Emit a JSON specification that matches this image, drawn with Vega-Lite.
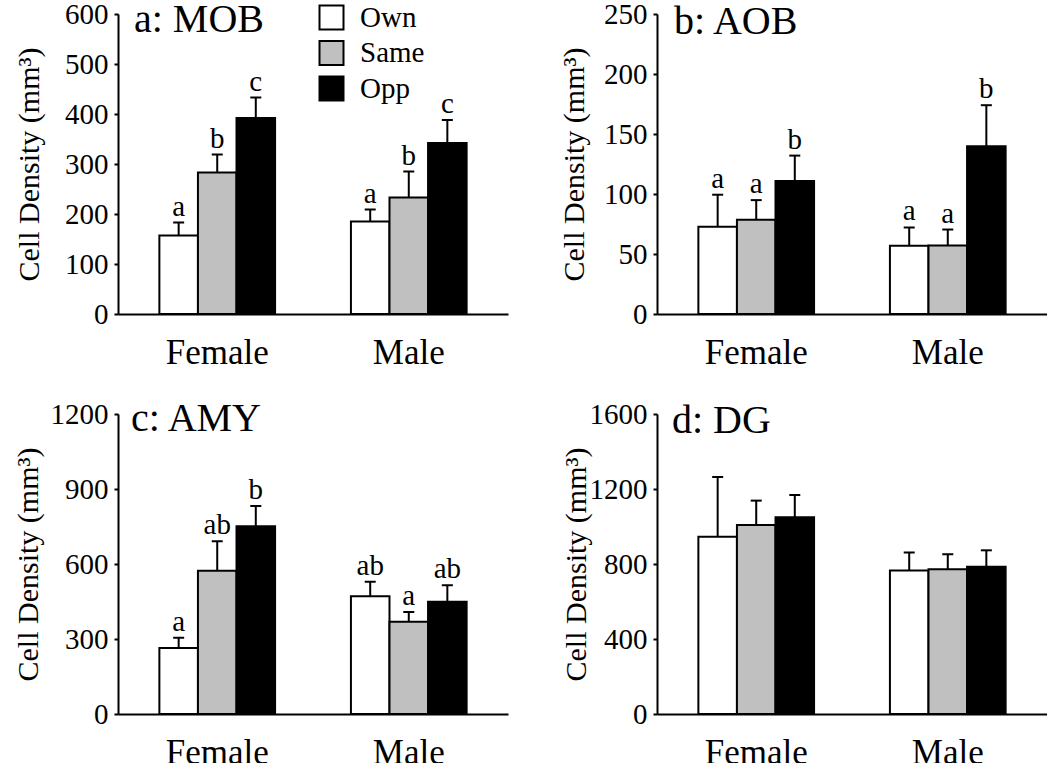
{
  "$schema": "https://vega.github.io/schema/vega-lite/v6.json",
  "padding": {"left": 13, "top": 0, "right": 0, "bottom": 0},
  "background": "white",
  "datasets": {
    "MOB": [
      {"sex": "Female", "group": "Own", "mean": 157, "upper": 183, "letter": "a"},
      {"sex": "Female", "group": "Same", "mean": 283, "upper": 319, "letter": "b"},
      {"sex": "Female", "group": "Opp", "mean": 392, "upper": 433, "letter": "c"},
      {"sex": "Male", "group": "Own", "mean": 185, "upper": 209, "letter": "a"},
      {"sex": "Male", "group": "Same", "mean": 233, "upper": 285, "letter": "b"},
      {"sex": "Male", "group": "Opp", "mean": 342, "upper": 388, "letter": "c"}
    ],
    "AOB": [
      {"sex": "Female", "group": "Own", "mean": 72.7, "upper": 99.4, "letter": "a"},
      {"sex": "Female", "group": "Same", "mean": 78.5, "upper": 94.9, "letter": "a"},
      {"sex": "Female", "group": "Opp", "mean": 110.8, "upper": 132, "letter": "b"},
      {"sex": "Male", "group": "Own", "mean": 56.8, "upper": 72.1, "letter": "a"},
      {"sex": "Male", "group": "Same", "mean": 57.1, "upper": 70.4, "letter": "a"},
      {"sex": "Male", "group": "Opp", "mean": 139.8, "upper": 174, "letter": "b"}
    ],
    "AMY": [
      {"sex": "Female", "group": "Own", "mean": 264, "upper": 305, "letter": "a"},
      {"sex": "Female", "group": "Same", "mean": 573, "upper": 691, "letter": "ab"},
      {"sex": "Female", "group": "Opp", "mean": 751, "upper": 832, "letter": "b"},
      {"sex": "Male", "group": "Own", "mean": 471, "upper": 529, "letter": "ab"},
      {"sex": "Male", "group": "Same", "mean": 369, "upper": 408, "letter": "a"},
      {"sex": "Male", "group": "Opp", "mean": 449, "upper": 515, "letter": "ab"}
    ],
    "DG": [
      {"sex": "Female", "group": "Own", "mean": 946, "upper": 1264, "letter": ""},
      {"sex": "Female", "group": "Same", "mean": 1008, "upper": 1138, "letter": ""},
      {"sex": "Female", "group": "Opp", "mean": 1049, "upper": 1168, "letter": ""},
      {"sex": "Male", "group": "Own", "mean": 766, "upper": 862, "letter": ""},
      {"sex": "Male", "group": "Same", "mean": 772, "upper": 852, "letter": ""},
      {"sex": "Male", "group": "Opp", "mean": 786, "upper": 873, "letter": ""}
    ]
  },
  "columns": 2,
  "spacing": {"column": 149, "row": 100},
  "bounds": "flush",
  "resolve": {"scale": {"fill": "independent"}, "legend": {"fill": "independent"}},
  "config": {
    "view": {"stroke": null},
    "font": "Liberation Serif",
    "axis": {"grid": false, "domainColor": "black", "domainWidth": 2, "tickColor": "black", "labelColor": "black", "titleColor": "black", "labelFont": "Liberation Serif", "titleFont": "Liberation Serif"},
    "axisX": {"ticks": false, "labelFontSize": 35, "labelAngle": 0, "labelBaseline": "alphabetic", "labelPadding": 49, "labelFont": "Liberation Serif"},
    "axisY": {"tickSize": 4, "tickWidth": 2, "labelFontSize": 29, "labelPadding": 6, "labelFont": "Liberation Serif", "titleFont": "Liberation Serif", "titleFontSize": 30, "titleFontWeight": "normal", "titleBaseline": "alphabetic", "titleAngle": 270, "titleY": 150, "titleAlign": "center", "format": "d"},
    "title": {"font": "Liberation Serif", "fontSize": 40, "fontWeight": "normal", "color": "black", "anchor": "start", "frame": "group", "offset": 0, "baseline": "alphabetic"},
    "legend": {"labelFont": "Liberation Serif", "labelColor": "black"}
  },
  "concat": [
    {
      "width": 390, "height": 300,
      "data": {"name": "MOB"},
      "title": {"text": "a: MOB", "dx": 16, "dy": 44},
      "encoding": {
        "x": {"field": "sex", "type": "nominal", "sort": ["Female", "Male"], "title": null, "scale": {"paddingInner": 0.396, "paddingOuter": 0.216}},
        "xOffset": {"field": "group", "type": "nominal", "sort": ["Own", "Same", "Opp"], "scale": {"paddingInner": 0, "paddingOuter": 0}}
      },
      "layer": [
        {"mark": {"type": "bar", "stroke": "black", "strokeWidth": 2},
         "encoding": {
           "y": {"field": "mean", "type": "quantitative", "title": "Cell Density (mm³)", "scale": {"domain": [0, 600], "nice": false}, "axis": {"values": [0, 100, 200, 300, 400, 500, 600], "titleX": -80, "format": "d", "titleFont": "Liberation Serif"}},
           "fill": {"field": "group", "type": "nominal", "sort": ["Own", "Same", "Opp"], "scale": {"domain": ["Own", "Same", "Opp"], "range": ["white", "#c0c0c0", "black"]},
             "legend": {"orient": "none", "legendX": 199, "legendY": -11, "title": null, "symbolType": "square", "symbolSize": 576, "symbolStrokeColor": "black", "symbolStrokeWidth": 2, "labelFontSize": 29, "labelOffset": 14, "rowPadding": 2.5, "padding": 0}}
         }},
        {"mark": {"type": "rule", "strokeWidth": 2, "color": "black"},
         "encoding": {"y": {"field": "mean", "type": "quantitative", "title": "Cell Density (mm³)"}, "y2": {"field": "upper"}}},
        {"mark": {"type": "tick", "size": 11, "thickness": 2, "color": "black", "opacity": 1},
         "encoding": {"y": {"field": "upper", "type": "quantitative", "title": "Cell Density (mm³)"}}},
        {"mark": {"type": "text", "dy": -7, "baseline": "alphabetic", "fontSize": 29, "font": "Liberation Serif", "color": "black"},
         "encoding": {"y": {"field": "upper", "type": "quantitative", "title": "Cell Density (mm³)"}, "text": {"field": "letter"}}}
      ]
    },
    {
      "width": 390, "height": 300,
      "data": {"name": "AOB"},
      "title": {"text": "b: AOB", "dx": 17, "dy": 46},
      "encoding": {
        "x": {"field": "sex", "type": "nominal", "sort": ["Female", "Male"], "title": null, "scale": {"paddingInner": 0.396, "paddingOuter": 0.216}},
        "xOffset": {"field": "group", "type": "nominal", "sort": ["Own", "Same", "Opp"], "scale": {"paddingInner": 0, "paddingOuter": 0}}
      },
      "layer": [
        {"mark": {"type": "bar", "stroke": "black", "strokeWidth": 2},
         "encoding": {
           "y": {"field": "mean", "type": "quantitative", "title": "Cell Density (mm³)", "scale": {"domain": [0, 250], "nice": false}, "axis": {"values": [0, 50, 100, 150, 200, 250], "titleX": -74, "format": "d", "titleFont": "Liberation Serif"}},
           "fill": {"field": "group", "type": "nominal", "sort": ["Own", "Same", "Opp"], "scale": {"domain": ["Own", "Same", "Opp"], "range": ["white", "#c0c0c0", "black"]}, "legend": null}
         }},
        {"mark": {"type": "rule", "strokeWidth": 2, "color": "black"},
         "encoding": {"y": {"field": "mean", "type": "quantitative", "title": "Cell Density (mm³)"}, "y2": {"field": "upper"}}},
        {"mark": {"type": "tick", "size": 11, "thickness": 2, "color": "black", "opacity": 1},
         "encoding": {"y": {"field": "upper", "type": "quantitative", "title": "Cell Density (mm³)"}}},
        {"mark": {"type": "text", "dy": -7, "baseline": "alphabetic", "fontSize": 29, "font": "Liberation Serif", "color": "black"},
         "encoding": {"y": {"field": "upper", "type": "quantitative", "title": "Cell Density (mm³)"}, "text": {"field": "letter"}}}
      ]
    },
    {
      "width": 390, "height": 300,
      "data": {"name": "AMY"},
      "title": {"text": "c: AMY", "dx": 13, "dy": 43},
      "encoding": {
        "x": {"field": "sex", "type": "nominal", "sort": ["Female", "Male"], "title": null, "scale": {"paddingInner": 0.396, "paddingOuter": 0.216}},
        "xOffset": {"field": "group", "type": "nominal", "sort": ["Own", "Same", "Opp"], "scale": {"paddingInner": 0, "paddingOuter": 0}}
      },
      "layer": [
        {"mark": {"type": "bar", "stroke": "black", "strokeWidth": 2},
         "encoding": {
           "y": {"field": "mean", "type": "quantitative", "title": "Cell Density (mm³)", "scale": {"domain": [0, 1200], "nice": false}, "axis": {"values": [0, 300, 600, 900, 1200], "titleX": -81, "format": "d", "titleFont": "Liberation Serif"}},
           "fill": {"field": "group", "type": "nominal", "sort": ["Own", "Same", "Opp"], "scale": {"domain": ["Own", "Same", "Opp"], "range": ["white", "#c0c0c0", "black"]}, "legend": null}
         }},
        {"mark": {"type": "rule", "strokeWidth": 2, "color": "black"},
         "encoding": {"y": {"field": "mean", "type": "quantitative", "title": "Cell Density (mm³)"}, "y2": {"field": "upper"}}},
        {"mark": {"type": "tick", "size": 11, "thickness": 2, "color": "black", "opacity": 1},
         "encoding": {"y": {"field": "upper", "type": "quantitative", "title": "Cell Density (mm³)"}}},
        {"mark": {"type": "text", "dy": -7, "baseline": "alphabetic", "fontSize": 29, "font": "Liberation Serif", "color": "black"},
         "encoding": {"y": {"field": "upper", "type": "quantitative", "title": "Cell Density (mm³)"}, "text": {"field": "letter"}}}
      ]
    },
    {
      "width": 390, "height": 300,
      "data": {"name": "DG"},
      "title": {"text": "d: DG", "dx": 15, "dy": 45},
      "encoding": {
        "x": {"field": "sex", "type": "nominal", "sort": ["Female", "Male"], "title": null, "scale": {"paddingInner": 0.396, "paddingOuter": 0.216}},
        "xOffset": {"field": "group", "type": "nominal", "sort": ["Own", "Same", "Opp"], "scale": {"paddingInner": 0, "paddingOuter": 0}}
      },
      "layer": [
        {"mark": {"type": "bar", "stroke": "black", "strokeWidth": 2},
         "encoding": {
           "y": {"field": "mean", "type": "quantitative", "title": "Cell Density (mm³)", "scale": {"domain": [0, 1600], "nice": false}, "axis": {"values": [0, 400, 800, 1200, 1600], "titleX": -72, "format": "d", "titleFont": "Liberation Serif"}},
           "fill": {"field": "group", "type": "nominal", "sort": ["Own", "Same", "Opp"], "scale": {"domain": ["Own", "Same", "Opp"], "range": ["white", "#c0c0c0", "black"]}, "legend": null}
         }},
        {"mark": {"type": "rule", "strokeWidth": 2, "color": "black"},
         "encoding": {"y": {"field": "mean", "type": "quantitative", "title": "Cell Density (mm³)"}, "y2": {"field": "upper"}}},
        {"mark": {"type": "tick", "size": 11, "thickness": 2, "color": "black", "opacity": 1},
         "encoding": {"y": {"field": "upper", "type": "quantitative", "title": "Cell Density (mm³)"}}}
      ]
    }
  ]
}
